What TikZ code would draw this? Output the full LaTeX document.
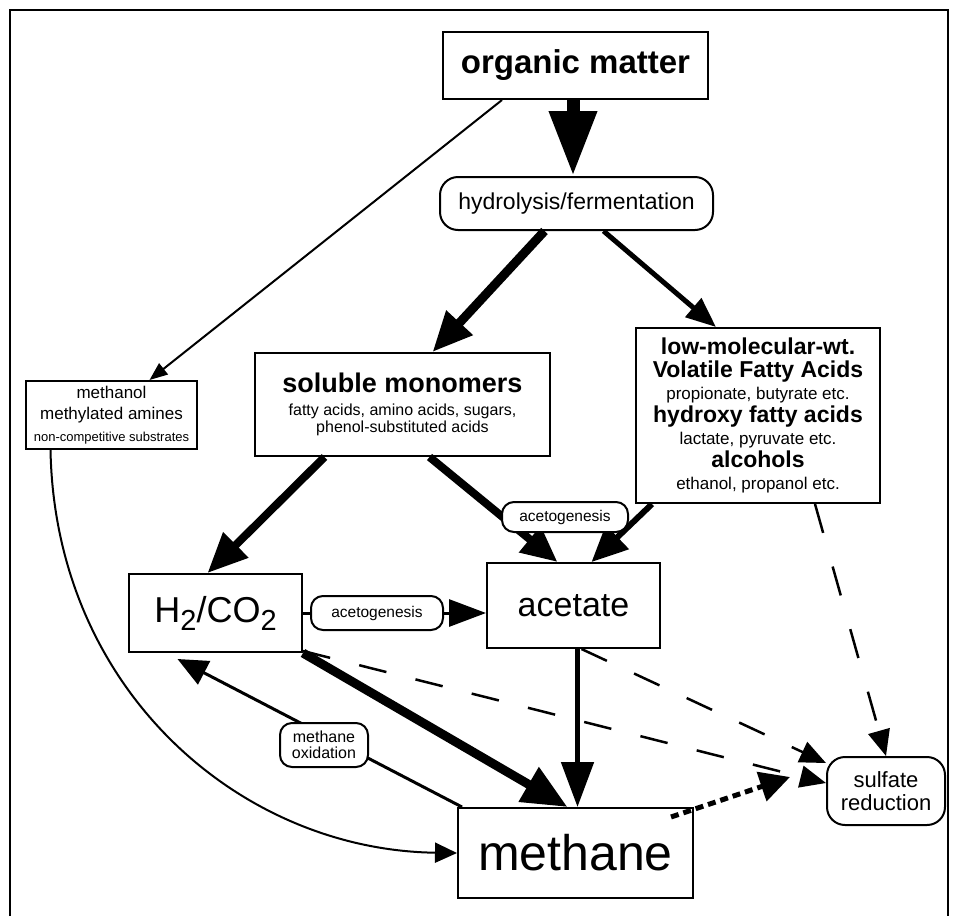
\documentclass[tikz,border=0pt]{standalone}
\usepackage{fontspec}
\setmainfont{Liberation Sans}
\usetikzlibrary{arrows.meta}
\begin{document}
\begin{tikzpicture}[x=1pt,y=-1pt,
  every node/.style={inner sep=0pt, align=center, font=\fontsize{16}{18}\selectfont},
  box/.style={draw, line width=2pt, fill=white},
  pill/.style={draw, line width=2pt, fill=white, rounded corners=12pt},
  conn/.style={line width=#1, line cap=butt},
  dashconn/.style={line width=2.5pt, dash pattern=on 28pt off 30pt, -{Triangle[length=26pt,width=22pt]}},
  tri/.style n args={2}{-{Triangle[length=#1,width=#2]}}
]
\useasboundingbox (0,0) rectangle (955,916);
\draw[line width=2.5pt] (10,916) -- (10,10) -- (948,10) -- (948,916);

% nodes
\node[box, minimum width=265pt, minimum height=67pt, font=\fontsize{33}{36}\selectfont\bfseries] (om) at (575.5,65.5) {organic matter};
\node[pill, rounded corners=18pt, minimum width=273pt, minimum height=53pt, font=\fontsize{23}{26}\selectfont] (hyd) at (576.5,203.5) {hydrolysis/fermentation};
\node[box, minimum width=171pt, minimum height=68pt, font=\fontsize{17}{21.5}\selectfont] (meth) at (111.5,415)
  {methanol\\
   methylated amines\\
   {\fontsize{13}{14}\selectfont non-competitive substrates}};
\node[box, minimum width=295pt, minimum height=103pt, font=\fontsize{16}{17}\selectfont] (sol) at (402.5,404.5)
  {{\fontsize{27}{28}\selectfont\bfseries soluble monomers}\\[6pt]
   fatty acids, amino acids, sugars,\\
   phenol-substituted acids};
\node[box, minimum width=244pt, minimum height=175pt, font=\fontsize{17}{22.5}\selectfont] (vfa) at (758,415.5)
  {{\fontsize{23}{22}\selectfont\bfseries low-molecular-wt.}\\
   {\fontsize{23}{22}\selectfont\bfseries Volatile Fatty Acids}\\
   propionate, butyrate etc.\\
   {\fontsize{23}{22}\selectfont\bfseries hydroxy fatty acids}\\
   lactate, pyruvate etc.\\
   {\fontsize{23}{22}\selectfont\bfseries alcohols}\\
   ethanol, propanol etc.};
\node[box, minimum width=173pt, minimum height=78pt, font=\fontsize{36}{40}\selectfont] (h2) at (215.5,613)
  {H\raisebox{-0.22em}{\fontsize{29}{30}\selectfont 2}/CO\raisebox{-0.22em}{\fontsize{29}{30}\selectfont 2}};
\node[box, minimum width=173pt, minimum height=85pt, font=\fontsize{34}{38}\selectfont] (ace) at (573.5,605.5) {acetate};
\node[box, minimum width=235pt, minimum height=90pt, font=\fontsize{50}{54}\selectfont] (mth) at (575.5,853) {methane};
\node[pill, rounded corners=18pt, minimum width=118pt, minimum height=68pt, font=\fontsize{22}{23}\selectfont] (sul) at (886,791) {sulfate\\reduction};
\coordinate (dotend) at (790,777);

% connectors
\draw[conn=13pt, tri={65pt}{45pt}] ([xshift=-2.5pt]om.south) -- ([xshift=-3.5pt]hyd.north);
\draw[conn=2pt, tri={18pt}{14pt}] ([xshift=60pt]om.south west) -- ([xshift=38pt]meth.north);
\draw[conn=9pt, tri={40pt}{34pt}] ([xshift=-32pt]hyd.south) -- ([xshift=30pt]sol.north);
\draw[conn=5pt, tri={30pt}{24pt}] ([xshift=27pt]hyd.south) -- ([xshift=-42pt]vfa.north);
\draw[conn=8pt, tri={40pt}{34pt}] ([xshift=-78pt]sol.south) -- ([xshift=-8pt]h2.north);
\draw[conn=8pt, tri={36pt}{32pt}] ([xshift=27pt]sol.south) -- ([xshift=-16pt]ace.north);
\draw[conn=6pt, tri={36pt}{32pt}] ([xshift=-106pt]vfa.south) -- ([xshift=18pt]ace.north);
\draw[conn=3pt, tri={37pt}{27pt}] (h2.east) -- (h2.east -| ace.west);
\draw[conn=9pt, tri={45pt}{38pt}] (h2.south east) -- ([xshift=-8pt]mth.north);
\draw[conn=5pt, tri={45pt}{32pt}] ([xshift=4pt]ace.south) -- ([xshift=2pt]mth.north);
\draw[conn=3pt, tri={30pt}{26pt}] ([xshift=5pt]mth.north west) -- ([xshift=-38pt,yshift=-6pt]h2.south);
\draw[conn=2pt, tri={22pt}{20pt}] ([xshift=-61pt]meth.south) .. controls (55,690) and (240,850) .. (mth.west);
\draw[dashconn] ([yshift=2pt]h2.south east) -- ([yshift=8pt]sul.west);
\draw[dashconn] ([xshift=8pt]ace.south) -- ([yshift=28pt]sul.west);
\draw[dashconn, dash pattern=on 30pt off 35pt] ([xshift=57pt]vfa.south) -- (sul.north);
\draw[conn=5pt, dash pattern=on 8pt off 5pt, tri={30pt}{30pt}] ([xshift=-23pt,yshift=-10pt]mth.north east) -- (dotend);

% labels on connectors
\node[pill, minimum width=126pt, minimum height=30pt, font=\fontsize{15.5}{17}\selectfont] (acg1) at (565,517) {acetogenesis};
\node[pill, minimum width=132pt, minimum height=34pt, font=\fontsize{15.5}{17}\selectfont] (acg2) at (377,613) {acetogenesis};
\node[pill, minimum width=88pt, minimum height=44pt, font=\fontsize{16}{16}\selectfont] (mox) at (324,745) {methane\\oxidation};
\end{tikzpicture}
\end{document}
